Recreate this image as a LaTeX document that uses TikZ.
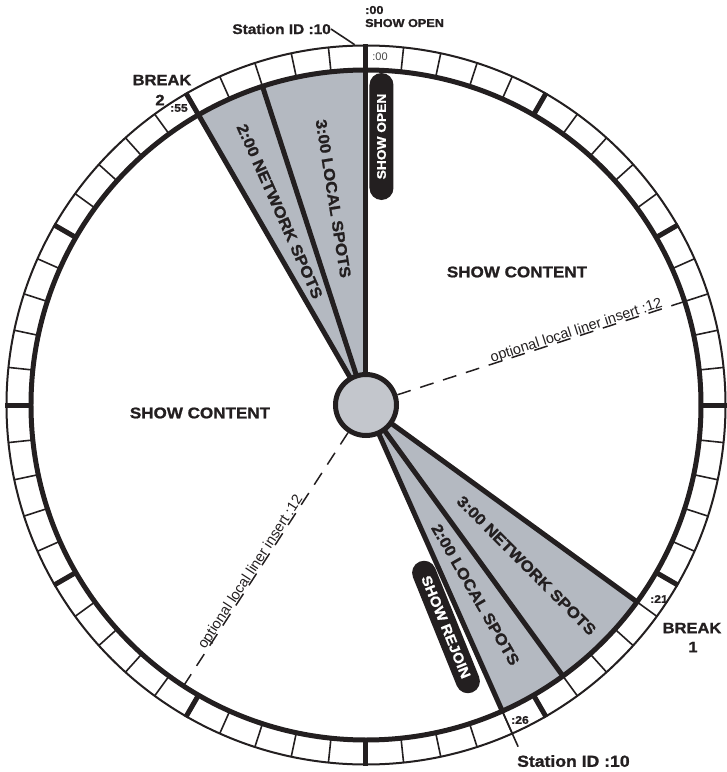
\documentclass[tikz,border=0pt]{standalone}
\usepackage{fontspec}
\setmainfont{Liberation Sans}
\newfontfamily\blk{Liberation Sans}[FakeStretch=1.1, BoldFeatures={FakeBold=1.2}]
\newcommand\myfs[1]{\fontsize{#1}{#1}\selectfont}
\definecolor{wedgegray}{RGB}{180,185,193}
\definecolor{hubgray}{RGB}{195,198,204}
\definecolor{ink}{RGB}{35,31,32}
\definecolor{cellgray}{RGB}{70,70,70}
\begin{document}
\begin{tikzpicture}[x=1pt,y=1pt,
  lbl/.style={inner sep=0pt, text=ink},
  boldlbl/.style={lbl, font=\blk\bfseries\myfs{#1}},
  reglbl/.style={lbl, font=\myfs{#1}},
  wedgeedge/.style={draw=ink, line width=5pt},
  minortick/.style={draw=ink, line width=1.6pt},
  majortick/.style={draw=ink, line width=5pt},
  liner/.style={draw=ink, line width=1.5pt, dash pattern=on 14pt off 10pt},
  pill/.style={fill=ink, text=white, rounded corners=12pt, minimum height=24pt, inner sep=0pt, font=\blk\bfseries\myfs{#1}}]
\useasboundingbox (-366,-367) rectangle (361,405);
% wedges
\fill[wedgegray] (0,0) -- (120:335pt) arc[start angle=120, end angle=90, radius=335pt] -- cycle;
\fill[wedgegray] (0,0) -- (-36:335pt) arc[start angle=-36, end angle=-66, radius=335pt] -- cycle;
\foreach \a in {120,108,90,-36,-54,-66} \draw[wedgeedge] (0,0) -- (\a:335pt);
% liner lines
\draw[liner] (18:33pt) -- (18:333pt);
\draw[liner] (-123:33pt) -- (-123:333pt);
% hub
\node[circle, fill=hubgray, draw=ink, line width=5pt, minimum size=61pt, inner sep=0pt] (hub) at (0,0) {};
% ring
\draw[draw=ink, line width=2pt] (0,0) circle[radius=359.5pt];
\draw[draw=ink, line width=5pt] (0,0) circle[radius=335pt];
\foreach \t in {0,...,59} \draw[minortick] ({90-6*\t}:335pt) -- ({90-6*\t}:359.5pt);
\foreach \t in {0,5,...,55} \draw[majortick] ({90-6*\t}:335pt) -- ({90-6*\t}:360.5pt);
% station id leaders
\coordinate (sidbot) at (-66:374pt);
\draw[minortick] (-66:335pt) -- (sidbot);
\coordinate (sidtop) at (91.8:360.5pt);
\node[boldlbl=14, anchor=east] (sidt) at (-35,376) {Station ID :10};
\draw[minortick] (sidt.east) -- (sidtop);
\node[boldlbl=16, anchor=north west] (sidb) at (151,-350) {Station ID :10};
% top labels
\node[boldlbl=11.5, anchor=base west] (t00) at (-1,391) {:00};
\node[boldlbl=11.5, anchor=base west] (topen) at (-1,378) {SHOW OPEN};
% breaks
\node[boldlbl=15] (b2a) at (-204,325) {BREAK};
\node[boldlbl=15] (b2b) at (-206,305) {2};
\node[boldlbl=15] (b1a) at (326,-223) {BREAK};
\node[boldlbl=15] (b1b) at (327,-242) {1};
% cell labels
\node[lbl, text=cellgray, font=\myfs{11}] (c00) at (14,348) {:00};
\node[boldlbl=11] (c55) at (-187,297) {:55};
\node[boldlbl=11] (c21) at (293,-194) {:21};
\node[boldlbl=11] (c26) at (154,-315) {:26};
% content
\node[boldlbl=15.5] (sc1) at (151,133) {SHOW CONTENT};
\node[boldlbl=15.5] (sc2) at (-166,-8) {SHOW CONTENT};
% wedge labels
\node[boldlbl=15.5, rotate=-81] (w1) at (99:209pt) {3:00 LOCAL SPOTS};
\node[boldlbl=15.5, rotate=-66] (w2) at (114:212pt) {2:00 NETWORK SPOTS};
\node[boldlbl=15.5, rotate=-45] (w3) at (-45:227pt) {3:00 NETWORK SPOTS};
\node[boldlbl=15.5, rotate=-60] (w4) at (-60:219pt) {2:00 LOCAL SPOTS};
% liner texts
\node[reglbl=14.5, rotate=18, anchor=base] (l1) at ([shift={(108:1.5pt)}]18:223pt) {optional local liner insert :12};
\node[reglbl=14.5, rotate=57, anchor=base] (l2) at ([shift={(147:1.5pt)}]-123:203pt) {optional local liner insert :12};
% pills
\node[pill=12.5, minimum width=127pt, rotate=90] (po) at (15.5,268.5) {SHOW OPEN};
\node[pill=14, minimum width=141pt, rotate=-68] (pr) at (80,-222) {SHOW REJOIN};
\end{tikzpicture}
\end{document}
